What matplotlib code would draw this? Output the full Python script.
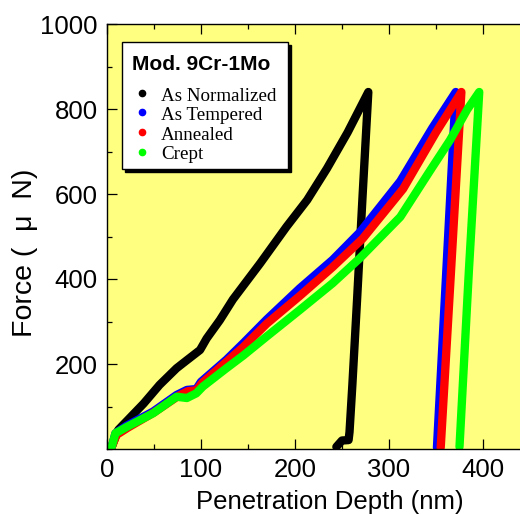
import matplotlib.pyplot as plt
from matplotlib.patches import Rectangle
from matplotlib.ticker import MultipleLocator

# load-unload curves, depth (nm) vs force (uN)
norm_x = [5, 12, 39, 56, 74, 85, 99, 106, 120, 134, 163, 191, 213, 234, 256, 278,
          272, 266, 261, 258, 257, 250, 244]
norm_y = [5, 45, 107, 151, 190, 209, 233, 260, 303, 352, 437, 523, 586, 660, 745, 840,
          600, 350, 150, 40, 21, 20, 5]

temp_x = [5, 9, 21, 49, 74, 85, 95, 100, 127, 145, 170, 205, 240, 269, 312, 346, 371,
          361, 351]
temp_y = [5, 37, 55, 88, 127, 139, 141, 158, 210, 249, 305, 378, 445, 510, 630, 755, 840,
          420, 3]

anneal_x = [5, 10, 22, 50, 76, 86, 95, 101, 127, 145, 170, 205, 240, 272, 315, 350, 377,
            366, 355]
anneal_y = [5, 33, 50, 86, 125, 136, 138, 155, 205, 240, 295, 360, 428, 495, 612, 745, 840,
            420, 3]

crept_x = [5, 9, 21, 49, 74, 85, 95, 102, 127, 145, 170, 205, 240, 269, 312, 344, 365, 383, 396,
           385, 375]
crept_y = [5, 37, 52, 84, 123, 120, 131, 147, 190, 220, 265, 327, 390, 449, 546, 656, 727, 798, 840,
           420, 5]

names = ['As Normalized', 'As Tempered', 'Annealed', 'Crept']
colors = ['black', '#0000ff', '#ff0000', '#00ff00']
series = [(norm_x, norm_y), (temp_x, temp_y), (anneal_x, anneal_y), (crept_x, crept_y)]

W, H = 520, 514
XMAX = 474
AXW = XMAX * 0.94  # axes width in pixels
fig = plt.figure(figsize=(W / 100, H / 100), dpi=100)
ax = fig.add_axes([107 / W, (H - 449) / H, AXW / W, 425 / H])
ax.set_facecolor('#ffff80')

for (x, y), c in zip(series, colors):
    ax.plot(x, y, color=c, lw=6, solid_capstyle='round', solid_joinstyle='round')

ax.set_xlim(0, XMAX)
ax.set_ylim(0, 1000)
ax.set_xticks([0, 100, 200, 300, 400])
ax.set_yticks([200, 400, 600, 800, 1000])
ax.xaxis.set_minor_locator(MultipleLocator(50))
ax.yaxis.set_minor_locator(MultipleLocator(100))
ax.tick_params(which='both', direction='in', top=True, right=True, width=0.9)
ax.tick_params(which='major', length=7)
ax.tick_params(which='minor', length=3.6)
ax.tick_params(axis='x', pad=6.5, labelsize=18.5)
ax.tick_params(axis='y', pad=6.5, labelsize=18.5)
for lab in ax.get_xticklabels() + ax.get_yticklabels():
    lab.set_family('Liberation Sans')
for s in ax.spines.values():
    s.set_linewidth(1.0)

ax.set_xlabel('Penetration Depth (nm)', fontsize=18.5, family='Liberation Sans')
ax.xaxis.set_label_coords(0.5, (449 - 489.5) / 425)
ax.set_ylabel('Force (  \u03bc  N)', fontsize=20.5, family='Liberation Sans')
ax.yaxis.set_label_coords((38 - 107) / AXW, (449 - 253) / 425)


# legend box drawn by hand (pixel positions -> axes fraction)
def pa(px, py):
    return (px - 107) / AXW, (449 - py) / 425


ax.add_patch(Rectangle(pa(125, 172), 166 / AXW, 127 / 425, transform=ax.transAxes,
                       facecolor='black', edgecolor='black', zorder=5))
ax.add_patch(Rectangle(pa(122, 169), 166 / AXW, 127 / 425, transform=ax.transAxes,
                       facecolor='white', edgecolor='black', lw=1.0, zorder=6))
ax.text(*pa(132, 70), 'Mod. 9Cr-1Mo', transform=ax.transAxes, fontsize=15,
        weight='bold', family='Liberation Sans', va='baseline', zorder=7)
for i, (n, c) in enumerate(zip(names, colors)):
    mx, my = pa(142, 92.7 + 19.7 * i)
    ax.plot([mx], [my], 'o', color=c, ms=4.5, transform=ax.transAxes, zorder=7)
    ax.text(*pa(161, 100.7 + 19.5 * i), n, transform=ax.transAxes, fontsize=13.7,
            family='Liberation Serif', va='baseline', zorder=7)

fig.savefig('out.png', dpi=100)
